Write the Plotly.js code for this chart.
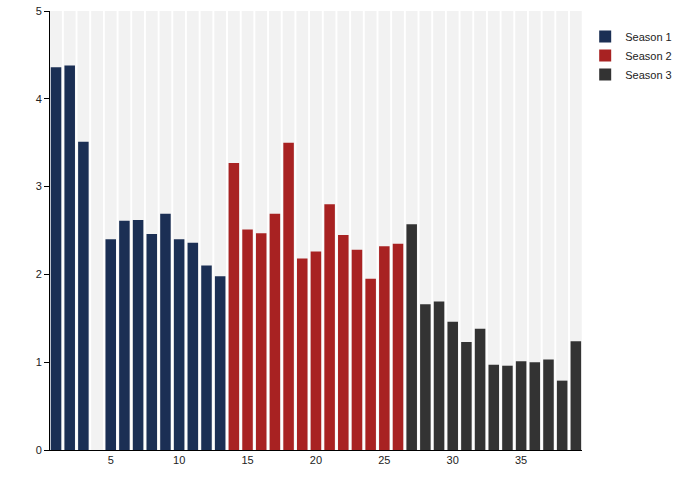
<!DOCTYPE html>
<html>
<head>
<meta charset="utf-8">
<script src="https://cdn.plot.ly/plotly-3.0.1.min.js"></script>
<style>
  html, body { margin: 0; padding: 0; background: #fff; }
  #chart { width: 682px; height: 500px; }
</style>
</head>
<body>
<div id="chart"></div>
<script>
const episodes = [1, 2, 3, 4, 5, 6, 7, 8, 9, 10, 11, 12, 13, 14, 15, 16, 17, 18, 19, 20,
  21, 22, 23, 24, 25, 26, 27, 28, 29, 30, 31, 32, 33, 34, 35, 36, 37, 38, 39];
const stripeHeights = [5, 5, 5, 5, 5, 5, 5, 5, 5, 5, 5, 5, 5, 5, 5, 5, 5, 5, 5, 5,
  5, 5, 5, 5, 5, 5, 5, 5, 5, 5, 5, 5, 5, 5, 5, 5, 5, 5, 5];

const season1Episodes = [1, 2, 3, 4, 5, 6, 7, 8, 9, 10, 11, 12, 13];
const season1Values = [4.36, 4.38, 3.51, null, 2.40, 2.61, 2.62, 2.46, 2.69, 2.40, 2.36, 2.10, 1.98];

const season2Episodes = [14, 15, 16, 17, 18, 19, 20, 21, 22, 23, 24, 25, 26];
const season2Values = [3.27, 2.51, 2.47, 2.69, 3.50, 2.18, 2.26, 2.80, 2.45, 2.28, 1.95, 2.32, 2.35];

const season3Episodes = [27, 28, 29, 30, 31, 32, 33, 34, 35, 36, 37, 38, 39];
const season3Values = [2.57, 1.66, 1.69, 1.46, 1.23, 1.38, 0.97, 0.96, 1.01, 1.00, 1.03, 0.79, 1.24];

const tickValues = [5, 10, 15, 20, 25, 30, 35];

// background stripes behind every episode
const stripes = {
  x: episodes,
  y: stripeHeights,
  type: 'bar',
  width: 0.86,
  marker: { color: '#f2f2f2' },
  showlegend: false,
  hoverinfo: 'skip'
};

function seasonTrace(name, xs, ys, color) {
  return {
    x: xs,
    y: ys,
    name: name,
    type: 'bar',
    width: 0.77,
    marker: { color: color }
  };
}

const traces = [
  stripes,
  seasonTrace('Season 1', season1Episodes, season1Values, '#1b2f54'),
  seasonTrace('Season 2', season2Episodes, season2Values, '#a82222'),
  seasonTrace('Season 3', season3Episodes, season3Values, '#333333')
];

const layout = {
  width: 682,
  height: 500,
  margin: { l: 50, r: 100, t: 11, b: 50, autoexpand: false },
  paper_bgcolor: '#ffffff',
  plot_bgcolor: '#ffffff',
  barmode: 'overlay',
  font: { family: 'Liberation Sans, Arial, sans-serif', size: 11, color: '#222' },
  xaxis: {
    range: [0.56, 39.45],
    tickvals: tickValues,
    ticks: '',
    showgrid: false,
    zeroline: false,
    showline: true,
    linecolor: '#000',
    linewidth: 1,
    ticklen: 0
  },
  yaxis: {
    range: [0, 5],
    dtick: 1,
    ticks: 'outside',
    ticklen: 5,
    tickcolor: '#000',
    showgrid: false,
    zeroline: false,
    showline: true,
    linecolor: '#000',
    linewidth: 1
  },
  legend: {
    x: 1.006,
    xanchor: 'left',
    y: 0.975,
    yanchor: 'top',
    font: { size: 11, color: '#222' },
    itemwidth: 30,
    tracegroupgap: 0
  }
};

Plotly.newPlot('chart', traces, layout, { displayModeBar: false, staticPlot: true });
</script>
</body>
</html>
